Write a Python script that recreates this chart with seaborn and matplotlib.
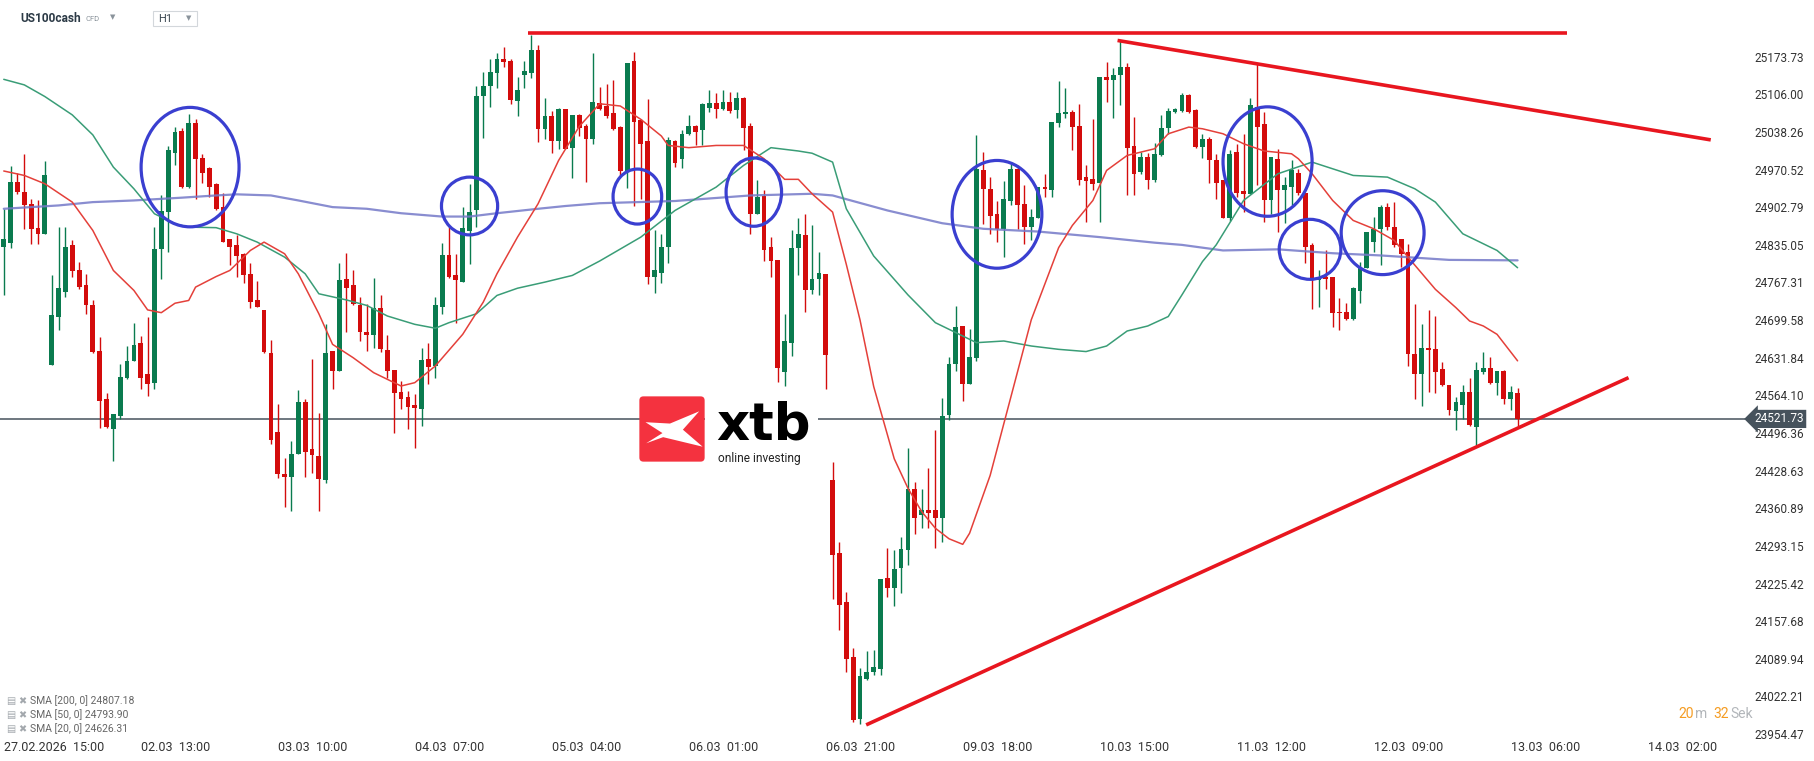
import pandas as pd
import seaborn as sns
import matplotlib.pyplot as plt
from matplotlib.patches import Ellipse, FancyBboxPatch, Polygon, Rectangle

# US100cash H1 candles, bar 0 = 27.02.2026 15:00
opens = [
    24831, 24838, 24948, 24931, 24909, 24866, 24854, 24618, 24706, 24751,
    24834, 24790, 24762, 24727, 24644, 24557, 24504, 24527, 24595, 24626,
    24659, 24602, 24587, 24828, 24894, 25001, 25040, 24940, 25054, 24992,
    24974, 24944, 24904, 24845, 24834, 24819, 24783, 24736, 24718, 24640,
    24499, 24423, 24417, 24459, 24553, 24467, 24455, 24412, 24644, 24608,
    24773, 24762, 24727, 24679, 24673, 24721, 24645, 24610, 24570, 24561,
    24547, 24539, 24629, 24617, 24724, 24816, 24780, 24769, 24860, 24898,
    25103, 25121, 25144, 25169, 25166, 25094, 25141, 25145, 25186, 25043,
    25067, 25022, 25079, 25009, 25068, 25049, 25025, 25090, 25085, 25072,
    25047, 24968, 25166, 25059, 25022, 24777, 24785, 24831, 25022, 24989,
    25034, 25049, 25041, 25082, 25090, 25080, 25093, 25078, 25099, 25049,
    24890, 24923, 24832, 24808, 24607, 24659, 24830, 24852, 24754, 24773,
    24783, 24412, 24281, 24192, 24093, 23981, 24054, 24066, 24072, 24235,
    24218, 24253, 24286, 24396, 24349, 24358, 24357, 24343, 24528, 24620,
    24689, 24585, 24632, 24969, 24935, 24891, 24863, 24914, 24972, 24909,
    24867, 24884, 24940, 24933, 25055, 25070, 25075, 25049, 24957, 24953,
    24947, 25137, 25132, 25141, 25155, 25013, 24966, 24994, 24952, 24996,
    25046, 25075, 25076, 25105, 25078, 25011, 25025, 24988, 24952, 24883,
    25002, 24932, 24927, 25084, 25052, 24916, 24990, 24934, 24939, 24965,
    24929, 24835, 24772, 24777, 24777, 24715, 24715, 24701, 24752, 24793,
    24840, 24864, 24904, 24868, 24846, 24822, 24639, 24603, 24650, 24647,
    24611, 24583, 24536, 24546, 24570, 24507, 24607, 24613, 24586, 24608,
    24557, 24568,
]
highs = [
    24900, 24977, 24965, 24998, 24918, 24915, 24986, 24781, 24868, 24868,
    24843, 24804, 24783, 24736, 24670, 24569, 24530, 24620, 24653, 24695,
    24671, 24706, 24867, 24925, 25013, 25048, 25045, 25070, 25061, 24998,
    24975, 24946, 24928, 24845, 24852, 24820, 24803, 24770, 24718, 24664,
    24549, 24452, 24482, 24574, 24557, 24630, 24532, 24692, 24644, 24803,
    24820, 24790, 24741, 24729, 24775, 24744, 24673, 24610, 24590, 24572,
    24566, 24649, 24659, 24742, 24838, 24867, 24819, 24903, 24944, 25121,
    25146, 25170, 25180, 25192, 25169, 25138, 25166, 25213, 25194, 25099,
    25076, 25082, 25079, 25068, 25071, 25052, 25181, 25120, 25124, 25132,
    25049, 25163, 25183, 25061, 25097, 24861, 24855, 25029, 25023, 25041,
    25069, 25050, 25090, 25113, 25108, 25113, 25110, 25110, 25102, 25054,
    24951, 24933, 24849, 24808, 24710, 24862, 24884, 24891, 24870, 24823,
    24783, 24445, 24300, 24210, 24109, 24073, 24104, 24105, 24233, 24290,
    24286, 24310, 24469, 24409, 24396, 24434, 24501, 24560, 24633, 24725,
    24689, 24683, 25032, 25003, 24957, 24914, 24950, 24981, 24979, 24942,
    24900, 24940, 24963, 25056, 25130, 25117, 25078, 25088, 24979, 25061,
    25137, 25164, 25153, 25204, 25162, 25065, 25003, 25000, 25019, 25068,
    25081, 25082, 25108, 25106, 25079, 25035, 25029, 24999, 24952, 25006,
    25017, 25034, 25099, 25162, 25075, 24993, 25008, 24957, 24988, 24972,
    24929, 24838, 24789, 24826, 24778, 24740, 24731, 24760, 24805, 24859,
    24886, 24906, 24911, 24913, 24846, 24837, 24728, 24692, 24717, 24707,
    24624, 24583, 24561, 24582, 24595, 24624, 24642, 24633, 24608, 24609,
    24581, 24577,
]
lows = [
    24744, 24829, 24927, 24864, 24837, 24837, 24854, 24618, 24682, 24742,
    24777, 24756, 24710, 24641, 24506, 24506, 24446, 24521, 24593, 24626,
    24575, 24563, 24575, 24774, 24822, 24978, 24937, 24937, 24918, 24946,
    24921, 24897, 24840, 24798, 24778, 24766, 24721, 24723, 24641, 24476,
    24415, 24363, 24356, 24459, 24418, 24425, 24356, 24406, 24575, 24608,
    24679, 24726, 24662, 24644, 24649, 24643, 24596, 24497, 24539, 24503,
    24470, 24509, 24584, 24595, 24710, 24775, 24694, 24768, 24801, 24867,
    25028, 25084, 25117, 25156, 25088, 25067, 25118, 25136, 25020, 25026,
    25000, 25007, 25007, 24955, 25031, 24948, 25016, 25078, 25064, 25041,
    24959, 24938, 24905, 24918, 24764, 24748, 24767, 24802, 24975, 24974,
    25032, 25014, 25014, 25075, 25064, 25078, 25073, 25064, 25006, 24855,
    24890, 24806, 24777, 24589, 24581, 24635, 24780, 24715, 24746, 24745,
    24575, 24197, 24142, 24067, 23977, 23973, 24051, 24060, 24060, 24202,
    24185, 24208, 24259, 24314, 24325, 24325, 24289, 24301, 24520, 24608,
    24554, 24585, 24626, 24873, 24855, 24840, 24814, 24906, 24864, 24837,
    24843, 24884, 24921, 24921, 25047, 25064, 25005, 24942, 24876, 24934,
    24876, 25093, 25064, 25087, 24924, 24924, 24962, 24936, 24948, 24995,
    25034, 25072, 25075, 25072, 25010, 24991, 24946, 24918, 24883, 24878,
    24921, 24894, 24927, 24942, 24876, 24891, 24858, 24874, 24906, 24925,
    24802, 24719, 24724, 24755, 24688, 24681, 24699, 24699, 24731, 24793,
    24823, 24798, 24862, 24831, 24795, 24617, 24557, 24545, 24571, 24569,
    24581, 24529, 24501, 24522, 24509, 24474, 24602, 24584, 24565, 24548,
    24537, 24509,
]
closes = [
    24845, 24948, 24930, 24906, 24863, 24854, 24960, 24709, 24757, 24832,
    24788, 24759, 24726, 24643, 24554, 24508, 24530, 24597, 24626, 24655,
    24596, 24585, 24828, 24896, 25005, 25039, 24940, 25055, 24989, 24965,
    24940, 24900, 24840, 24831, 24815, 24781, 24733, 24723, 24643, 24484,
    24422, 24417, 24459, 24553, 24462, 24456, 24414, 24640, 24608, 24771,
    24757, 24729, 24679, 24673, 24721, 24647, 24608, 24569, 24557, 24544,
    24541, 24628, 24615, 24727, 24816, 24777, 24772, 24865, 24894, 25103,
    25121, 25146, 25169, 25164, 25096, 25114, 25148, 25186, 25043, 25067,
    25022, 25079, 25008, 25068, 25046, 25025, 25093, 25079, 25067, 25043,
    24968, 25163, 25056, 25016, 24778, 24789, 24832, 25023, 24983, 25034,
    25049, 25038, 25088, 25090, 25080, 25093, 25076, 25099, 25046, 24890,
    24921, 24826, 24806, 24614, 24662, 24830, 24854, 24754, 24774, 24785,
    24636, 24277, 24186, 24089, 23979, 24059, 24067, 24075, 24233, 24218,
    24251, 24287, 24396, 24343, 24358, 24352, 24343, 24527, 24620, 24687,
    24585, 24633, 24972, 24935, 24887, 24863, 24917, 24972, 24907, 24867,
    24886, 24940, 24935, 25056, 25072, 25075, 25047, 24951, 24950, 24944,
    25137, 25132, 25141, 25156, 25010, 24963, 24993, 24952, 24999, 25046,
    25076, 25079, 25105, 25075, 25011, 25025, 24988, 24947, 24883, 24999,
    24928, 24926, 25087, 25047, 24916, 24993, 24933, 24942, 24969, 24928,
    24832, 24775, 24777, 24773, 24712, 24712, 24701, 24758, 24793, 24859,
    24864, 24904, 24868, 24834, 24819, 24639, 24602, 24649, 24645, 24607,
    24583, 24537, 24552, 24570, 24510, 24610, 24613, 24586, 24608, 24557,
    24570, 24522,
]

# moving averages, sampled along the drawn lines (bar, price)
sma200_bars = [0, 8, 13, 19, 26, 31, 34, 39, 43, 48, 53, 58, 64, 68, 72, 78, 82, 87,
               98, 109, 118, 121, 129, 137, 143, 151, 160, 168, 172, 178, 186, 194,
               201, 211, 221]
sma200_vals = [24900, 24906, 24912, 24915, 24920, 24924, 24926, 24924, 24915, 24903,
               24900, 24892, 24886, 24886, 24892, 24900, 24905, 24910, 24914, 24924,
               24927, 24924, 24897, 24874, 24864, 24859, 24849, 24839, 24835, 24825,
               24827, 24820, 24816, 24808, 24807.18]
sma50_bars = [0, 3, 6, 10, 13, 16, 19, 22, 25, 27, 31, 34, 37, 41, 44, 46, 50, 53, 56,
              60, 63, 65, 69, 72, 75, 79, 83, 87, 93, 98, 104, 108, 112, 116, 118, 121,
              123, 127, 132, 136, 138, 142, 146, 150, 154, 158, 161, 164, 167, 170, 172,
              175, 177, 181, 186, 191, 197, 202, 206, 209, 213, 218, 221]
sma50_vals = [25133, 25123, 25102, 25069, 25033, 24975, 24936, 24891, 24873, 24867,
              24866, 24855, 24840, 24813, 24783, 24747, 24736, 24726, 24707, 24692,
              24685, 24695, 24711, 24744, 24757, 24768, 24780, 24806, 24849, 24897,
              24939, 24978, 25010, 25004, 25000, 24984, 24900, 24815, 24745, 24695,
              24683, 24659, 24662, 24653, 24647, 24643, 24653, 24680, 24689, 24706,
              24745, 24805, 24835, 24915, 24963, 24984, 24960, 24957, 24936, 24912,
              24855, 24825, 24793.90]
sma20_bars = [0, 3, 6, 10, 13, 16, 19, 21, 23, 25, 27, 28, 31, 33, 36, 38, 41, 43, 46,
              48, 51, 54, 58, 60, 63, 67, 70, 72, 75, 78, 81, 84, 87, 90, 93, 96, 97,
              100, 104, 108, 111, 114, 116, 118, 121, 123, 125, 127, 130, 132, 134, 136,
              138, 140, 141, 144, 147, 150, 154, 156, 159, 161, 164, 168, 170, 173, 175,
              178, 181, 184, 188, 189, 191, 194, 197, 200, 203, 205, 209, 212, 214, 216,
              218, 221]
sma20_vals = [24968, 24960, 24945, 24912, 24861, 24789, 24753, 24718, 24713, 24730,
              24735, 24759, 24778, 24789, 24825, 24840, 24819, 24783, 24711, 24656,
              24632, 24605, 24581, 24587, 24617, 24674, 24732, 24783, 24849, 24909,
              24987, 25048, 25089, 25085, 25061, 25031, 25014, 25010, 25014, 25014,
              24990, 24953, 24953, 24927, 24894, 24800, 24700, 24580, 24450, 24397,
              24355, 24325, 24306, 24296, 24316, 24420, 24560, 24700, 24830, 24870,
              24915, 24969, 24996, 25008, 25035, 25047, 25044, 25035, 25017, 25004,
              24999, 24990, 24963, 24915, 24879, 24864, 24843, 24813, 24755, 24722,
              24698, 24689, 24674, 24626.31]
sma_legend = ["SMA [200, 0] 24807.18", "SMA [50, 0] 24793.90", "SMA [20, 0] 24626.31"]

x_tick_bars = [0, 20, 40, 60, 80, 100, 120, 140, 160, 180, 200, 220, 240]
x_tick_labels = ["27.02.2026  15:00", "02.03  13:00", "03.03  10:00", "04.03  07:00",
                 "05.03  04:00", "06.03  01:00", "06.03  21:00", "09.03  18:00",
                 "10.03  15:00", "11.03  12:00", "12.03  09:00", "13.03  06:00",
                 "14.03  02:00"]
y_ticks = [25173.73, 25106.00, 25038.26, 24970.52, 24902.79, 24835.05, 24767.31,
           24699.58, 24631.84, 24564.10, 24496.36, 24428.63, 24360.89, 24293.15,
           24225.42, 24157.68, 24089.94, 24022.21, 23954.47]
last_price = 24521.73

# hand drawn analysis: trend lines (bar, price) and circled zones
resistance_bars = [76.6, 228.2]
resistance_prices = [25216, 25216]
falling_bars = [162.6, 249.2]
falling_prices = [25203, 25024]
rising_bars = [125.9, 237.2]
rising_prices = [23971, 24596]
circle_bars = [27.2, 68.0, 92.5, 109.5, 145.0, 184.5, 190.7, 201.3]
circle_prices = [24975, 24905, 24922, 24930, 24890, 24985, 24827, 24857]
circle_widths = [14.3, 8.2, 7.1, 8.1, 13.1, 13.0, 9.0, 12.1]
circle_heights = [215, 104, 99, 123, 194, 197, 108, 151]

GREEN = "#0a7b4f"
RED = "#d30c0c"
PEN_RED = "#e8161f"
PEN_BLUE = "#3a3fd0"

sns.set_theme(style="white")
plt.rcParams["font.family"] = ["Roboto", "DejaVu Sans"]

candles = pd.DataFrame({"open": opens, "high": highs, "low": lows, "close": closes})
candles["bar"] = range(len(candles))
candles["color"] = (candles["close"] >= candles["open"]).map({True: GREEN, False: RED})
body_low = candles[["open", "close"]].min(axis=1)
body_size = (candles["close"] - candles["open"]).abs().clip(lower=3)

fig = plt.figure(figsize=(18.15, 7.61), dpi=100)
ax = fig.add_axes([0, 21 / 761, 1745 / 1815, 740 / 761])

ax.axhline(last_price, color="#46525c", lw=1.1, zorder=1)

# candles: wicks then bodies
ax.vlines(candles["bar"], candles["low"], candles["high"], colors=candles["color"],
          lw=1.0, zorder=2)
ax.bar(candles["bar"], body_size, bottom=body_low, width=0.7, color=candles["color"],
       linewidth=0, zorder=2)

# indicators
sns.lineplot(x=sma200_bars, y=sma200_vals, ax=ax, color="#7479c8", linewidth=1.6,
             alpha=0.85, zorder=3)
sns.lineplot(x=sma50_bars, y=sma50_vals, ax=ax, color="#3a9d77", linewidth=1.1, zorder=3)
sns.lineplot(x=sma20_bars, y=sma20_vals, ax=ax, color="#e4403a", linewidth=1.1, zorder=3)

# drawings
for xs, ys in [(resistance_bars, resistance_prices), (falling_bars, falling_prices),
               (rising_bars, rising_prices)]:
    ax.plot(xs, ys, color=PEN_RED, lw=2.6, solid_capstyle="butt", zorder=5)
for bx, py, w, h in zip(circle_bars, circle_prices, circle_widths, circle_heights):
    ax.add_patch(Ellipse((bx, py), w, h, fill=False, ec=PEN_BLUE, lw=2.3, zorder=6))

ax.set_xlim(-0.55, 254.2)
ax.set_ylim(23943.8, 25275.8)
ax.set_xticks(x_tick_bars, x_tick_labels)
for lab in ax.get_xticklabels():
    lab.set_horizontalalignment("left")
ax.yaxis.tick_right()
ax.set_yticks(y_ticks, [f"{v:.2f}" for v in y_ticks])
ax.tick_params(axis="y", length=0, pad=6.5, labelsize=8.5, labelcolor="#333333")
ax.tick_params(axis="x", length=0, pad=0.5, labelsize=9, labelcolor="#333333")
ax.set_xlabel("")
ax.set_ylabel("")
for spine in ax.spines.values():
    spine.set_visible(False)

ax.annotate(f"{last_price:.2f}", xy=(1, last_price), xycoords=("axes fraction", "data"),
            xytext=(6.5, 0), textcoords="offset points", ha="left", va="center",
            color="white", fontsize=8.5, annotation_clip=False, zorder=7,
            bbox=dict(boxstyle="larrow,pad=0.22", fc="#46525c", ec="none"))

# xtb logo
fig.add_artist(Rectangle((705 / 1815, 1 - 465 / 761), 113 / 1815, 70 / 761,
                         transform=fig.transFigure, fc="white", ec="none", zorder=1))
logo_ax = fig.add_axes([638 / 1815, 1 - 463 / 761, 68 / 1815, 68 / 761])
logo_ax.set_xlim(0, 1)
logo_ax.set_ylim(0, 1)
logo_ax.axis("off")
logo_ax.add_patch(FancyBboxPatch((0.02, 0.02), 0.96, 0.96,
                                 boxstyle="round,pad=0,rounding_size=0.06",
                                 fc="#f4323f", ec="none"))
logo_ax.add_patch(Polygon([(0.11, 0.60), (0.47, 0.58), (0.90, 0.76), (0.66, 0.49),
                           (0.95, 0.24), (0.37, 0.38), (0.12, 0.29), (0.36, 0.44)],
                          closed=True, fc="white", ec="none"))
fig.text(716 / 1815, 1 - 439 / 761, "xtb", fontsize=37, fontweight="bold",
         family="DejaVu Sans", color="black", va="baseline")
fig.text(718 / 1815, 1 - 458.5 / 761, "online investing", fontsize=8.6, color="#222222",
         va="center")

# header
fig.text(20 / 1815, 1 - 18.5 / 761, "US100cash", fontsize=8.6, fontweight="bold",
         color="#2c3a46", va="center")
fig.text(86 / 1815, 1 - 19 / 761, "CFD", fontsize=5.5, color="#8a939b", va="center")
fig.text(113 / 1815, 1 - 17 / 761, "▼", fontsize=5, color="#8a939b", va="center",
         ha="center", family="DejaVu Sans")
fig.add_artist(Rectangle((153 / 1815, 1 - 25.7 / 761), 44 / 1815, 14.7 / 761,
                         transform=fig.transFigure, fc="white", ec="#d3d7db", lw=0.8))
fig.text(158 / 1815, 1 - 19.5 / 761, "H1", fontsize=8, color="#3a4650", va="center")
fig.text(189 / 1815, 1 - 18.5 / 761, "▼", fontsize=5, color="#8a939b", va="center",
         ha="center", family="DejaVu Sans")

# indicator legend
for row_y, label in zip([701, 715, 729], sma_legend):
    fig.text(6 / 1815, 1 - row_y / 761, "▤", fontsize=7, color="#a3a8ad", va="center",
             family="DejaVu Sans")
    fig.text(18 / 1815, 1 - row_y / 761, "✖", fontsize=7, color="#a3a8ad", va="center",
             family="DejaVu Sans")
    fig.text(30 / 1815, 1 - row_y / 761, label, fontsize=7.5, color="#666666",
             va="center")

# candle countdown
for px, txt, col in [(1678, "20", "#f59c22"), (1695, "m", "#b2b6ba"),
                     (1713, "32", "#f59c22"), (1730, "Sek", "#b2b6ba")]:
    fig.text(px / 1815, 1 - 714 / 761, txt, fontsize=10, color=col, va="center")

fig.savefig("out.png", dpi=100, facecolor="white")
